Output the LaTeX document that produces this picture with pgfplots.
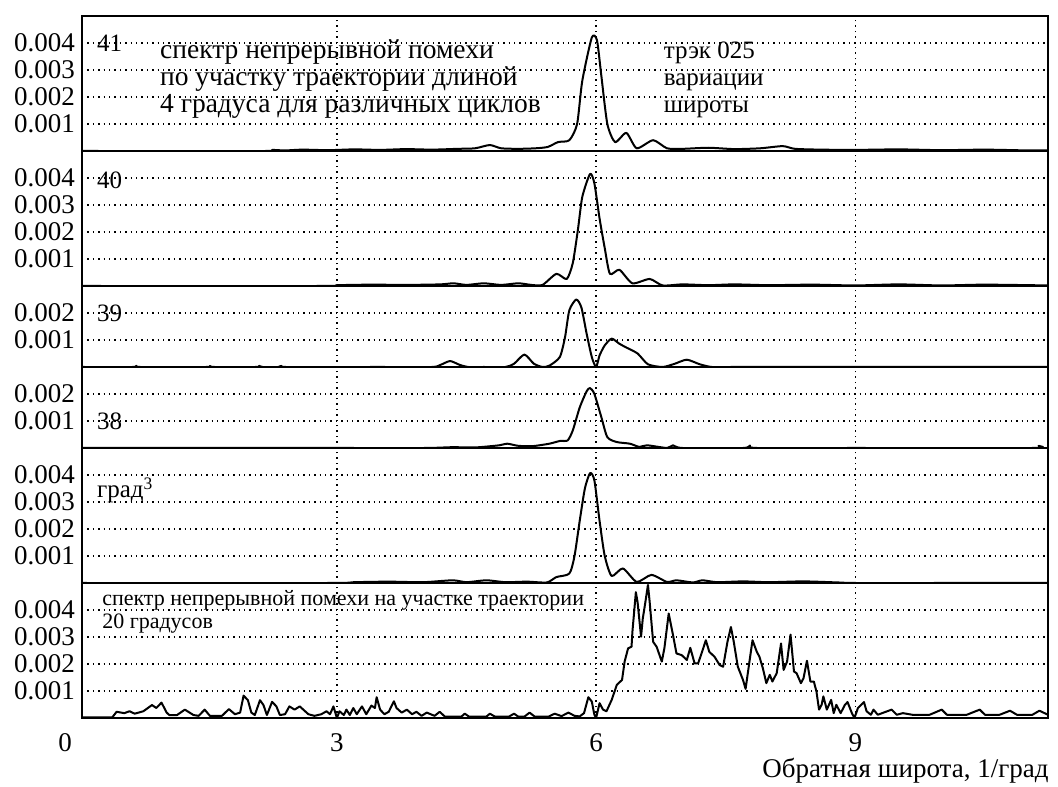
\documentclass[border=0pt]{standalone}
\usepackage{pgfplots}
\pgfplotsset{compat=1.18}
\usepackage{fontspec}
\setmainfont{Liberation Serif}
\newcommand{\tl}{\fontsize{13.5}{16}\selectfont}
\newcommand{\lb}{\fontsize{12.5}{15}\selectfont}
\newcommand{\lt}{\fontsize{13.75}{16}\selectfont}
\newcommand{\sm}{\fontsize{11}{13}\selectfont}
\pgfplotsset{
  panel/.style={
    scale only axis, width=483pt,
    xmin=0.05, xmax=11.23, ymin=0,
    axis line style={line width=1pt},
    xtick={3,6,9}, xticklabels={},
    major tick length=0pt,
    scaled y ticks=false, scaled x ticks=false,
    xmajorgrids, ymajorgrids,
    grid style={black, line width=0.7pt, dotted},
    yticklabel style={font=\tl},
    cycle list={{black, no markers}},
    every axis plot/.append style={line width=1pt, line join=round},
    anchor=south west,
  },
  p5/.style={height=67.5pt, ymax=0.005, ytick={0.001,0.002,0.003,0.004}, yticklabels={0.001,0.002,0.003,0.004}},
  p3/.style={height=40.5pt, ymax=0.003, ytick={0.001,0.002}, yticklabels={0.001,0.002}},
}
\begin{document}
\begin{tikzpicture}
\useasboundingbox (-41pt,-34pt) rectangle (488pt,359pt);
% panel 41
\begin{axis}[panel, p5, at={(0pt,283.5pt)}]
\addplot+[smooth, tension=0.4] coordinates {(0.05,0) (2.2,0) (2.25,0.00004) (2.4,0.00002) (2.6,0.00005) (2.9,0.00003) (3.2,0.00006) (3.5,0.00004) (3.8,0.00007) (4.1,0.00005) (4.4,0.00008) (4.6,0.0001) (4.77,0.00022) (4.9,0.0001) (5.1,0.00008) (5.3,0.0001) (5.44,0.00015) (5.56,0.00033) (5.69,0.0004) (5.78,0.001) (5.84,0.0026) (5.95,0.0042) (6.01,0.0041) (6.06,0.0028) (6.13,0.001) (6.22,0.00033) (6.35,0.00067) (6.47,0.0001) (6.66,0.0004) (6.82,0.0001) (7.0,0.00008) (7.3,0.00012) (7.6,0.00007) (7.9,0.0001) (8.16,0.00018) (8.3,0.00008) (8.6,0.00005) (9.0,0.00004) (9.5,0.00006) (10.0,0.00003) (10.5,0.00005) (11.0,0.00002) (11.23,0.00002)};
\node[font=\lb, anchor=base west, inner sep=0] at (axis cs:0.22,0.00368) {41};
\node[font=\lt, anchor=base west, inner sep=0] at (axis cs:0.95,0.00344) {спектр непрерывной помехи};
\node[font=\lt, anchor=base west, inner sep=0] at (axis cs:0.95,0.00241) {по участку траектории длиной};
\node[font=\lt, anchor=base west, inner sep=0] at (axis cs:0.95,0.00141) {4 градуса для различных циклов};
\node[font=\lb, anchor=base west, inner sep=0] at (axis cs:6.78,0.00344) {трэк 025};
\node[font=\lb, anchor=base west, inner sep=0] at (axis cs:6.78,0.00241) {вариации};
\node[font=\lb, anchor=base west, inner sep=0] at (axis cs:6.78,0.00141) {широты};
\end{axis}
% panel 40
\begin{axis}[panel, p5, at={(0pt,216pt)}]
\addplot+[smooth, tension=0.4] coordinates {(0.05,0) (2.8,0) (3.0,0.00003) (3.4,0.00005) (3.8,0.00004) (4.2,0.00006) (4.35,0.0001) (4.5,0.00004) (4.7,0.0001) (4.9,0.00004) (5.1,0.0001) (5.25,0.00004) (5.38,0.00004) (5.54,0.00045) (5.66,0.00026) (5.73,0.00085) (5.79,0.0021) (5.84,0.0033) (5.93,0.00415) (5.98,0.0038) (6.04,0.0025) (6.10,0.0014) (6.16,0.00045) (6.27,0.0006) (6.42,0.0001) (6.62,0.00026) (6.77,0.00002) (7.0,0.00006) (7.3,0.00003) (7.6,0.00006) (8.0,0.00003) (8.5,0.00005) (9.0,0.00002) (9.5,0.00006) (10.0,0.00002) (10.5,0.00005) (11.23,0.00002)};
\node[font=\lb, anchor=base west, inner sep=0] at (axis cs:0.22,0.0036) {40};
\end{axis}
% panel 39
\begin{axis}[panel, p3, at={(0pt,175.5pt)}]
\addplot+[smooth, tension=0.4] coordinates {(0.05,0) (0.64,0) (0.68,0.00004) (0.72,0) (1.49,0) (1.53,0.00004) (1.58,0) (2.06,0) (2.1,0.00004) (2.14,0) (2.32,0) (2.36,0.00004) (2.4,0) (3.5,0) (4.1,0) (4.2,0.00008) (4.31,0.00022) (4.42,0.00008) (4.52,0) (4.7,0) (4.95,0) (5.05,0.00012) (5.17,0.00046) (5.28,0.00012) (5.38,0) (5.46,0.00005) (5.58,0.00037) (5.64,0.0011) (5.69,0.0021) (5.77,0.0025) (5.83,0.0022) (5.89,0.00124) (5.95,0.00037) (6.0,0) (6.04,0.00043) (6.10,0.0008) (6.18,0.00105) (6.27,0.00086) (6.35,0.00072) (6.48,0.0005) (6.60,0.0001) (6.77,0) (6.91,0.00012) (7.05,0.00027) (7.2,0.0001) (7.34,0) (7.6,0) (9.0,0) (11.23,0)};
\node[font=\lb, anchor=base west, inner sep=0] at (axis cs:0.22,0.00167) {39};
\end{axis}
% panel 38
\begin{axis}[panel, p3, at={(0pt,135pt)}]
\addplot+[smooth, tension=0.4] coordinates {(0.05,0) (3.0,0) (4.02,0) (4.34,0.00003) (4.6,0.00002) (4.88,0.0001) (4.97,0.00016) (5.1,0.00008) (5.27,0.00007) (5.46,0.00016) (5.58,0.00026) (5.67,0.00028) (5.73,0.00065) (5.81,0.0015) (5.89,0.0021) (5.93,0.00222) (5.98,0.002) (6.06,0.00115) (6.13,0.0004) (6.24,0.00022) (6.39,0.00016) (6.50,0.00004) (6.59,0.0001) (6.82,0) (6.89,0.0001) (7.0,0) (7.7,0) (7.78,0.00009) (7.86,0) (9.0,0) (11.05,0) (11.12,0.00008) (11.18,0) (11.23,0)};
\node[font=\lb, anchor=base west, inner sep=0] at (axis cs:0.22,0.00067) {38};
\end{axis}
% panel grad^3
\begin{axis}[panel, p5, at={(0pt,67.5pt)}]
\addplot+[smooth, tension=0.4] coordinates {(0.05,0) (2.9,0) (3.2,0.00003) (3.6,0.00005) (4.0,0.00003) (4.34,0.0001) (4.5,0.00003) (4.73,0.0001) (4.95,0.00003) (5.2,0.00005) (5.43,0.00002) (5.54,0.00022) (5.69,0.00035) (5.75,0.001) (5.81,0.0023) (5.87,0.0035) (5.93,0.00407) (5.98,0.0038) (6.04,0.0023) (6.10,0.001) (6.18,0.00026) (6.31,0.00054) (6.47,0.00004) (6.64,0.0003) (6.82,0.00004) (6.93,0.0001) (7.12,0.00002) (7.23,0.0001) (7.4,0.00003) (7.7,0.00006) (8.0,0.00003) (8.4,0.00006) (8.8,0.00002) (9.0,0) (10.0,0) (11.23,0)};
\node[font=\lb, anchor=base west, inner sep=0] at (axis cs:0.22,0.00315) {град\textsuperscript{3}};
\end{axis}
% bottom panel
\begin{axis}[panel, p5, at={(0pt,0pt)}, clip=false, xticklabels={3,6,9},
  xticklabel style={font=\tl, anchor=center, inner sep=0pt, yshift=-12.5pt}]
\addplot coordinates {(0.05,0.00002) (0.40,0.00002) (0.45,0.00023) (0.54,0.00018) (0.60,0.00025) (0.66,0.00016) (0.76,0.00025) (0.86,0.00048) (0.91,0.00037) (0.97,0.00057) (1.03,0.0002) (1.06,0.00011) (1.15,0.00011) (1.24,0.00031) (1.34,0.00011) (1.40,0.00008) (1.47,0.00031) (1.53,0.00008) (1.67,0.00008) (1.75,0.00033) (1.82,0.00014) (1.88,0.0002) (1.92,0.00083) (1.97,0.00066) (2.01,0.0002) (2.05,0.00011) (2.11,0.00066) (2.15,0.00048) (2.19,0.00011) (2.25,0.0006) (2.30,0.00043) (2.34,0.00011) (2.40,0.00014) (2.45,0.00043) (2.51,0.00031) (2.57,0.00043) (2.67,0.00014) (2.74,0.00008) (2.82,0.00014) (2.88,0.00025) (2.92,0.00014) (2.96,0.00043) (3.00,0) (3.03,0.00025) (3.08,0.00011) (3.11,0.00031) (3.15,0.00011) (3.19,0.00037) (3.23,0.00014) (3.29,0.00043) (3.34,0.00014) (3.40,0.00046) (3.44,0.00037) (3.46,0.00077) (3.50,0.00031) (3.55,0.00014) (3.60,0.00023) (3.66,0.00062) (3.69,0.00037) (3.75,0.0002) (3.81,0.00031) (3.87,0.00014) (3.92,0.00023) (3.98,0.00008) (4.04,0.0002) (4.13,0.00008) (4.19,0.00023) (4.25,0.00005) (4.44,0.00005) (4.48,0.00016) (4.53,0.00005) (4.73,0.00005) (4.77,0.00016) (4.83,0.00005) (4.99,0.00005) (5.05,0.00016) (5.10,0.00005) (5.17,0.00005) (5.23,0.0002) (5.29,0.00005) (5.45,0.00005) (5.52,0.00016) (5.60,0.00007) (5.68,0.0002) (5.75,0.00008) (5.81,0.00006) (5.86,0.00018) (5.91,0.00077) (5.95,0.00061) (5.98,0.00012) (6.00,0) (6.04,0.00055) (6.08,0.00031) (6.12,0.00025) (6.18,0.00067) (6.24,0.00123) (6.30,0.00141) (6.33,0.00209) (6.37,0.00258) (6.41,0.00264) (6.42,0.00319) (6.46,0.00466) (6.48,0.00429) (6.52,0.00301) (6.54,0.00368) (6.57,0.00429) (6.60,0.00493) (6.62,0.00429) (6.66,0.00282) (6.70,0.00264) (6.76,0.00209) (6.79,0.00258) (6.84,0.00387) (6.89,0.00307) (6.93,0.00239) (6.99,0.00233) (7.05,0.00215) (7.09,0.0026) (7.14,0.00202) (7.18,0.00202) (7.22,0.00239) (7.27,0.00288) (7.31,0.00245) (7.37,0.00227) (7.43,0.00196) (7.47,0.0019) (7.52,0.00282) (7.56,0.00337) (7.59,0.00288) (7.64,0.0019) (7.70,0.00141) (7.73,0.00108) (7.78,0.00221) (7.81,0.00288) (7.86,0.00245) (7.89,0.00227) (7.93,0.00184) (7.97,0.00129) (8.01,0.0016) (8.04,0.00135) (8.09,0.00166) (8.14,0.00276) (8.17,0.00178) (8.21,0.00209) (8.25,0.00309) (8.29,0.00172) (8.32,0.00166) (8.37,0.00129) (8.40,0.00147) (8.44,0.00212) (8.48,0.00135) (8.52,0.00135) (8.55,0.00098) (8.58,0.00031) (8.61,0.00049) (8.63,0.0008) (8.67,0.00031) (8.72,0.00067) (8.75,0.00018) (8.78,0.00049) (8.83,0.00018) (8.88,0.00049) (8.91,0.00059) (8.96,0.00018) (8.99,0) (9.03,0.00037) (9.10,0.00059) (9.13,0.00025) (9.18,0.00012) (9.21,0.00031) (9.26,0.00012) (9.42,0.00031) (9.48,0.00012) (9.55,0.00018) (9.66,0.00012) (9.86,0.00012) (10.00,0.00031) (10.06,0.00012) (10.29,0.00012) (10.44,0.00031) (10.50,0.00012) (10.67,0.00012) (10.79,0.00027) (10.87,0.00012) (11.05,0.00012) (11.13,0.00027) (11.23,0.00012)};
\node[font=\sm, anchor=base west, inner sep=0] at (axis cs:0.28,0.00415) {спектр непрерывной помехи на участке траектории};
\node[font=\sm, anchor=base west, inner sep=0] at (axis cs:0.28,0.0033) {20 градусов};
\node[font=\tl, anchor=center, inner sep=0] at ([shift={(-8.5pt,-12.5pt)}]rel axis cs:0,0) {0};
\node[font=\tl, anchor=base east, inner sep=0] at ([shift={(0.5pt,-29.5pt)}]rel axis cs:1,0) {Обратная широта, 1/град};
\end{axis}
\end{tikzpicture}
\end{document}
